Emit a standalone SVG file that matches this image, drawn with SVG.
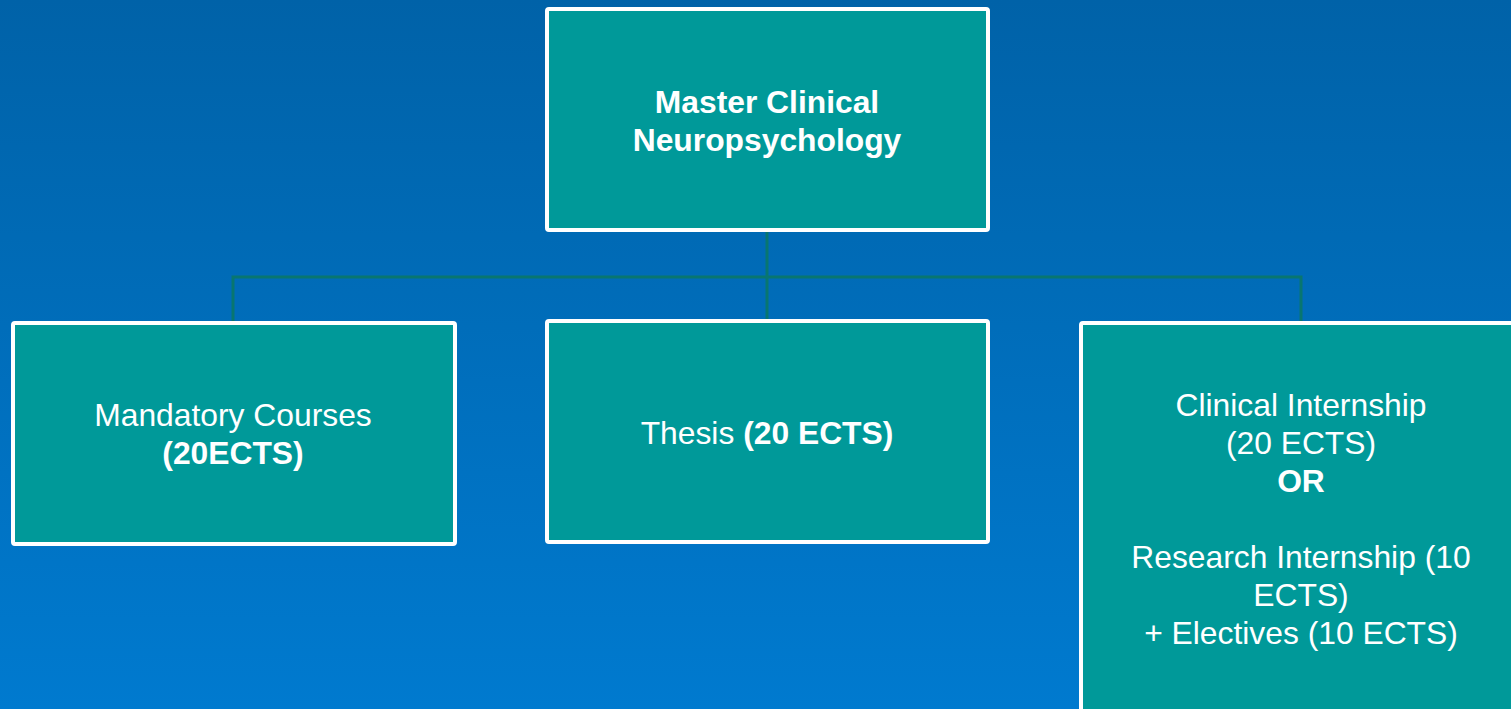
<svg xmlns="http://www.w3.org/2000/svg" width="1511" height="709" viewBox="0 0 1511 709">
<defs>
<linearGradient id="bg" x1="0" y1="0" x2="0" y2="1">
<stop offset="0" stop-color="#0062A8"/>
<stop offset="1" stop-color="#007ACF"/>
</linearGradient>
<style>
.box{fill:#009999;stroke:#FFFFFF;stroke-width:4;}
.conn{fill:none;stroke:#087670;stroke-width:3;}
text{font-family:"Liberation Sans",Arial,sans-serif;font-size:31.8px;fill:#FFFFFF;text-anchor:middle;}
.b{font-weight:bold;}
</style>
</defs>
<rect x="0" y="0" width="1511" height="709" fill="url(#bg)"/>
<g id="connectors">
<path class="conn" d="M767 231 V322"/>
<path class="conn" d="M233 322 V277 H1301 V322"/>
</g>
<g id="master">
<rect class="box" x="547" y="9" width="441" height="221" rx="2"/>
<text class="b" x="767" y="113">Master Clinical</text>
<text class="b" x="767" y="151">Neuropsychology</text>
</g>
<g id="mandatory">
<rect class="box" x="13" y="323" width="442" height="221" rx="2"/>
<text x="233" y="426">Mandatory Courses</text>
<text class="b" x="233" y="464">(20ECTS)</text>
</g>
<g id="thesis">
<rect class="box" x="547" y="321" width="441" height="221" rx="2"/>
<text x="767" y="444">Thesis <tspan class="b">(20 ECTS)</tspan></text>
</g>
<g id="internship">
<rect class="box" x="1081" y="323" width="440" height="400" rx="2"/>
<text x="1301" y="416">Clinical Internship</text>
<text x="1301" y="454">(20 ECTS)</text>
<text class="b" x="1301" y="492">OR</text>
<text x="1301" y="568">Research Internship (10</text>
<text x="1301" y="606">ECTS)</text>
<text x="1301" y="644">+ Electives (10 ECTS)</text>
</g>
</svg>
